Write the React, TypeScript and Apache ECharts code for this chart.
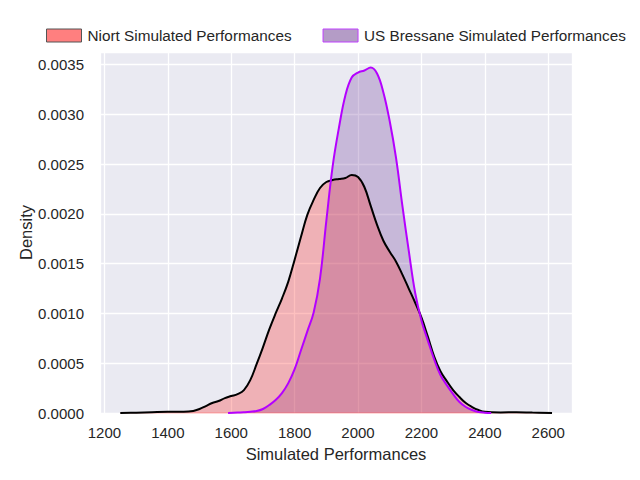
import React, { useEffect, useRef } from "react";
import * as echarts from "echarts";

const niortX = [1250, 1300, 1350, 1400, 1450, 1480, 1500, 1520, 1540, 1560, 1580, 1600, 1620, 1640, 1660, 1680, 1700, 1720, 1740, 1760, 1780, 1800, 1820, 1840, 1860, 1880, 1900, 1920, 1940, 1960, 1980, 2000, 2020, 2040, 2060, 2080, 2100, 2120, 2140, 2160, 2180, 2200, 2220, 2240, 2260, 2280, 2300, 2320, 2340, 2360, 2380, 2400, 2450, 2500, 2550, 2612];
const niortY = [0, 0.000003, 0.000008, 0.000012, 0.000012, 0.00002, 0.00004, 0.00007, 0.0001, 0.00012, 0.00015, 0.00017, 0.00019, 0.00023, 0.00033, 0.00049, 0.00066, 0.00084, 0.001, 0.00115, 0.00132, 0.00154, 0.00177, 0.00199, 0.00214, 0.00226, 0.00232, 0.00234, 0.00235, 0.00236, 0.00239, 0.00237, 0.00227, 0.00208, 0.00189, 0.00173, 0.00162, 0.00152, 0.00139, 0.00125, 0.00111, 0.00096, 0.00077, 0.00057, 0.00042, 0.00032, 0.00023, 0.00016, 0.0001, 0.00006, 0.00003, 0.000012, 0.000006, 0.000008, 0.000004, 0];

const bressX = [1590, 1620, 1640, 1660, 1680, 1700, 1720, 1740, 1760, 1780, 1800, 1820, 1840, 1860, 1880, 1900, 1920, 1940, 1960, 1980, 2000, 2020, 2040, 2060, 2080, 2100, 2120, 2140, 2160, 2180, 2200, 2220, 2240, 2260, 2280, 2300, 2320, 2340, 2360, 2380, 2400, 2420];
const bressY = [0, 0.000004, 0.000008, 0.000013, 0.00002, 0.00004, 0.00008, 0.00013, 0.0002, 0.0003, 0.00044, 0.00063, 0.00082, 0.00101, 0.00135, 0.00193, 0.00248, 0.00287, 0.00319, 0.00337, 0.00342, 0.00344, 0.00347, 0.00341, 0.00322, 0.00293, 0.00256, 0.00208, 0.00163, 0.00121, 0.00093, 0.00073, 0.00054, 0.00038, 0.00028, 0.00019, 0.00011, 0.00006, 0.00003, 0.00001, 0.000003, 0];

const seriesNames = ["Niort Simulated Performances", "US Bressane Simulated Performances"];
const xTicks = [1200, 1400, 1600, 1800, 2000, 2200, 2400, 2600];

const FONT = "'Liberation Sans', Arial, sans-serif";
const TEXT = "#262626";
const SMOOTH = 0.4;

function pairs(xs: number[], ys: number[]) {
  return xs.map((x, i) => [x, ys[i]]);
}

export default function App() {
  const ref = useRef<HTMLDivElement>(null);
  useEffect(() => {
    if (!ref.current) return;
    const chart = echarts.init(ref.current, null, { renderer: "svg" });
    const niort = pairs(niortX, niortY);
    const bress = pairs(bressX, bressY);
    chart.setOption({
      animation: false,
      backgroundColor: "#ffffff",
      textStyle: { fontFamily: FONT },
      legend: {
        left: 41,
        top: 23,
        width: 625,
        itemWidth: 35,
        itemHeight: 13,
        itemGap: 31,
        textStyle: { fontFamily: FONT, fontSize: 15.3, color: TEXT, padding: [0, 0, 0, 1] },
        data: [
          { name: seriesNames[0], icon: "rect", itemStyle: { color: "#ff7f7f", borderColor: "#555555", borderWidth: 1 } },
          { name: seriesNames[1], icon: "rect", itemStyle: { color: "#b49cc6", borderColor: "#c040ff", borderWidth: 1 } },
        ],
      },
      grid: {
        left: 100,
        right: 68,
        top: 52,
        bottom: 67,
        show: true,
        backgroundColor: "#eaeaf2",
        borderWidth: 0,
      },
      xAxis: {
        type: "value",
        min: 1186,
        max: 2675,
        splitNumber: 7,
        name: "Simulated Performances",
        nameLocation: "middle",
        nameGap: 32,
        nameMoveOverlap: false,
        nameTextStyle: { fontFamily: FONT, fontSize: 16.5, color: TEXT },
        axisLine: { show: false },
        axisTick: { show: false },
        axisLabel: {
          fontFamily: FONT,
          fontSize: 15,
          color: TEXT,
          margin: 12,
          formatter: (v: number) => (xTicks.indexOf(Math.round(v)) >= 0 && Math.abs(v - Math.round(v)) < 1e-6 ? String(Math.round(v)) : ""),
        },
        splitLine: { show: true, lineStyle: { color: "#ffffff", width: 1.3 } },
      },
      yAxis: {
        type: "value",
        min: 0,
        max: 0.003626,
        interval: 0.0005,
        name: "Density",
        nameLocation: "middle",
        nameGap: 66,
        nameMoveOverlap: false,
        nameTextStyle: { fontFamily: FONT, fontSize: 16.5, color: TEXT },
        axisLine: { show: false },
        axisTick: { show: false },
        axisLabel: {
          fontFamily: FONT,
          fontSize: 15,
          color: TEXT,
          margin: 16,
          formatter: (v: number) => {
            const k = v / 0.0005;
            return Math.abs(k - Math.round(k)) < 1e-6 ? v.toFixed(4) : "";
          },
        },
        splitLine: { show: true, lineStyle: { color: "#ffffff", width: 1.3 } },
      },
      series: [
        {
          name: seriesNames[1],
          type: "line",
          data: bress,
          smooth: SMOOTH,
          symbol: "none",
          lineStyle: { width: 0 },
          itemStyle: { color: "#b49cc6" },
          areaStyle: { color: "rgba(120,70,160,0.3)", opacity: 1 },
          z: 2,
        },
        {
          name: seriesNames[0],
          type: "line",
          data: niort,
          smooth: SMOOTH,
          symbol: "none",
          lineStyle: { width: 0 },
          itemStyle: { color: "#ff7f7f" },
          areaStyle: { color: "rgba(250,37,35,0.29)", opacity: 1 },
          z: 3,
        },
        {
          name: "niortBase",
          type: "line",
          data: [
            [niortX[0], 0],
            [niortX[niortX.length - 1], 0],
          ],
          symbol: "none",
          clip: false,
          lineStyle: { color: "rgba(255,60,60,0.2)", width: 2 },
          z: 3,
          silent: true,
        },
        {
          name: "niortLine",
          type: "line",
          data: niort,
          smooth: SMOOTH,
          symbol: "none",
          lineStyle: { color: "#000000", width: 2 },
          z: 4,
        },
        {
          name: "bressLine",
          type: "line",
          data: bress,
          smooth: SMOOTH,
          symbol: "none",
          lineStyle: { color: "#b400ff", width: 2 },
          z: 5,
        },
      ],
    });
    return () => chart.dispose();
  }, []);
  return <div ref={ref} style={{ position: "fixed", left: 0, top: 0, width: 640, height: 480 }} />;
}
